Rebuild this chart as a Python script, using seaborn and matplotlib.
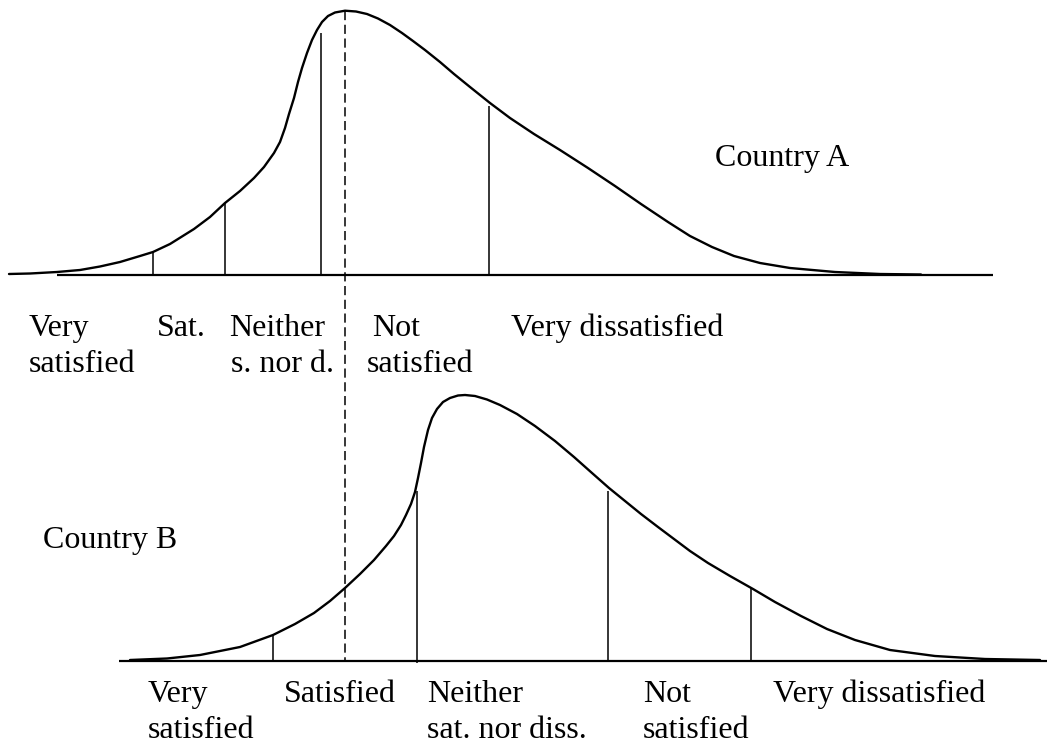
import pandas as pd
import matplotlib
matplotlib.use("Agg")
import matplotlib.pyplot as plt
import seaborn as sns

# Curves (pixel coords, y grows downwards)
curve_a_x = [9, 30, 57, 80, 100, 120, 140, 153, 170, 194, 210, 225, 240, 254, 264, 274, 280,
             285, 289, 294, 298, 302, 307, 312, 317, 322, 328, 335, 345,
             356, 367, 378, 390, 402, 413, 425, 440, 454, 470, 490, 510, 534, 560, 588, 615,
             641, 668, 690, 712, 734, 760, 790, 835, 880, 921]
curve_a_y = [274, 273.5, 272, 270, 266.5, 262, 256, 252, 244, 229, 217, 203, 191, 178, 167, 153,
             142, 128, 114, 98, 82, 68, 53, 40, 30, 22, 16, 12.5, 10.7,
             11.5, 14, 18.5, 25, 33, 41, 50, 62, 74, 87, 103, 118, 134, 150, 168, 186,
             204, 222, 236, 247, 256, 263, 268, 272, 274, 274.5]

curve_b_x = [130, 167, 200, 240, 273, 295, 314, 330, 345, 360, 374, 386, 394, 401, 406, 411,
             415, 418, 421, 424, 428, 432, 437, 443, 450, 458, 465,
             475, 487, 500, 517, 535, 555, 574, 592, 609, 625, 641, 658, 674, 690, 708, 730,
             753, 775, 801, 827, 855, 890, 935, 985, 1040]
curve_b_y = [660, 658.5, 655, 647, 635, 624, 613, 601, 588, 574, 560, 546, 536, 525, 515, 504,
             492, 478, 463, 447, 430, 418, 409, 402, 398, 395.5, 395,
             396, 399.5, 405, 414, 426, 441, 457, 473, 488, 501, 514, 527, 539, 551, 563, 576,
             589, 602, 616, 629, 640, 650, 656, 659, 660]

# cut points (x) and where each line stops (y)
cuts_a_x = [153, 225, 321, 489]
cuts_a_top = [252, 203, 33, 106]
cuts_b_x = [273, 417, 608, 751]
cuts_b_top = [635, 491, 491, 587]

labels_a = ["Very", "satisfied", "Sat.", "Neither", "s. nor d.", "Not", "satisfied",
            "Very dissatisfied"]
labels_b = ["Very", "satisfied", "Satisfied", "Neither", "sat. nor diss.", "Not", "satisfied",
            "Very dissatisfied"]

# layout of the labels (left x, baseline y)
pos_a = [(29, 336), (29, 372), (157, 336), (229, 336), (231, 372), (372, 336), (367, 372),
         (511, 336)]
pos_b = [(148, 702), (148, 738), (284, 702), (427, 702), (427, 738), (643, 702), (643, 738),
         (773, 702)]

sns.set_style("white")
plt.rcParams["font.family"] = ["Liberation Serif", "DejaVu Serif"]

fig = plt.figure(figsize=(10.47, 7.47), dpi=100)
ax = fig.add_axes([0, 0, 1, 1])

df_a = pd.DataFrame({"x": curve_a_x, "y": curve_a_y})
df_b = pd.DataFrame({"x": curve_b_x, "y": curve_b_y})
sns.lineplot(data=df_a, x="x", y="y", sort=False, estimator=None, color="black", lw=1.7, ax=ax)
sns.lineplot(data=df_b, x="x", y="y", sort=False, estimator=None, color="black", lw=1.7, ax=ax)

# baselines
ax.hlines(274.5, 57, 993, color="black", lw=1.6)
ax.hlines(660.5, 119, 1047, color="black", lw=1.6)

# category boundaries
ax.vlines(cuts_a_x, cuts_a_top, 274.5, color="black", lw=1.1)
ax.vlines(cuts_b_x, cuts_b_top, [660.5, 663, 660.5, 660.5], color="black", lw=1.1)

# dashed line through the peak of A
ax.vlines(345, 10.7, 660, color="black", lw=1.1, linestyles=(0, (6, 3)))

for txt, (x, y) in zip(labels_a, pos_a):
    ax.text(x, y, txt, fontsize=23, color="black", ha="left", va="baseline")
for txt, (x, y) in zip(labels_b, pos_b):
    ax.text(x, y, txt, fontsize=23, color="black", ha="left", va="baseline")

ax.text(715, 166, "Country A", fontsize=23, color="black", ha="left", va="baseline")
ax.text(43, 548, "Country B", fontsize=23, color="black", ha="left", va="baseline")

ax.set_xlim(0, 1047)
ax.set_ylim(747, 0)
ax.axis("off")

fig.savefig("out.png", dpi=100, facecolor="white")
